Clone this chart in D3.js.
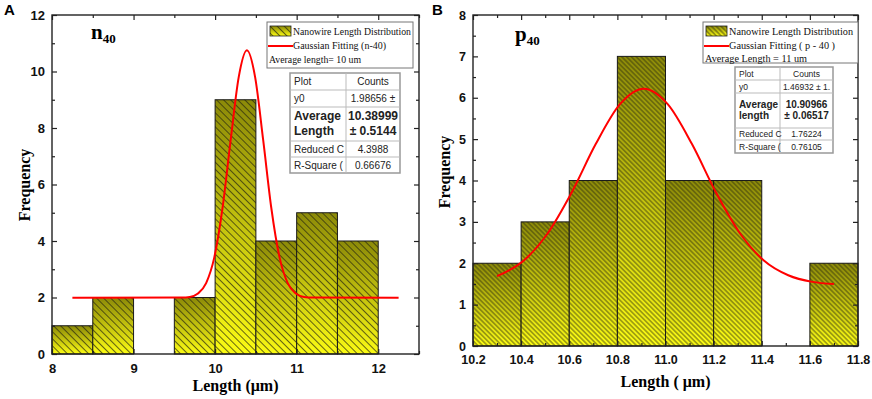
<!DOCTYPE html>
<html>
<head>
<meta charset="utf-8">
<script src="https://cdn.jsdelivr.net/npm/d3@7"></script>
<style>
body{margin:0;background:#fff}
svg{display:block}
</style>
</head>
<body>
<div id="chart"></div>
<script>
// panel A : n40
const binLoA = [8, 8.5, 9.5, 10, 10.5, 11, 11.5]
const binHiA = [8.5, 9, 10, 10.5, 11, 11.5, 12]
const countA = [1, 2, 2, 9, 4, 5, 4]
const fitXA = [8.25, 9.59, 9.69, 9.79, 9.89, 9.99, 10.09, 10.19, 10.29, 10.39, 10.49, 10.59, 10.69, 10.79, 10.89, 10.99, 11.09, 11.19, 12.25]
const fitYA = [1.99, 2.0, 2.02, 2.14, 2.51, 3.42, 5.15, 7.56, 9.81, 10.75, 9.81, 7.56, 5.15, 3.42, 2.51, 2.14, 2.02, 2.0, 1.99]
const xTicksA = [8, 9, 10, 11, 12]
const yTicksA = [0, 2, 4, 6, 8, 10, 12]
const tableA = [["Plot", "Counts"], ["y0", "1.98656 ±"], ["Average|Length", "10.38999|± 0.5144"], ["Reduced C", "4.3988"], ["R-Square (", "0.66676"]]
const legendA = ["Nanowire Length Distribution", "Gaussian Fitting (n-40)", "Average length= 10 um"]

// panel B : p40
const binLoB = [10.2, 10.4, 10.6, 10.8, 11.0, 11.2, 11.6]
const binHiB = [10.4, 10.6, 10.8, 11.0, 11.2, 11.4, 11.8]
const countB = [2, 3, 4, 7, 4, 4, 2]
const fitXB = [10.3, 10.41, 10.51, 10.61, 10.71, 10.81, 10.91, 11.01, 11.11, 11.21, 11.31, 11.41, 11.51, 11.61, 11.7]
const fitYB = [1.69, 2.06, 2.72, 3.71, 4.88, 5.84, 6.22, 5.84, 4.88, 3.71, 2.72, 2.06, 1.71, 1.55, 1.5]
const xTicksB = [10.2, 10.4, 10.6, 10.8, 11.0, 11.2, 11.4, 11.6, 11.8]
const yTicksB = [0, 1, 2, 3, 4, 5, 6, 7, 8]
const tableB = [["Plot", "Counts"], ["y0", "1.46932 ± 1."], ["Average|length", "10.90966|± 0.06517"], ["Reduced C", "1.76224"], ["R-Square (", "0.76105"]]
const legendB = ["Nanowire Length Distribution", "Gaussian Fitting ( p - 40 )", "Average Length = 11 um"]

const width = 872
const height = 399
const serif = "'Liberation Serif','Times New Roman',serif"
const sans = "'Liberation Sans',Arial,sans-serif"

const svg = d3.select("#chart").append("svg")
.attr("width", width)
.attr("height", height)
const defs = svg.append("defs")

function panel(c){
const g = svg.append("g")
const x = d3.scaleLinear().domain(c.xd).range([c.l, c.r])
const y = d3.scaleLinear().domain(c.yd).range([c.b, c.t])

// gradient + hatch
const grad = defs.append("linearGradient").attr("id", "grad" + c.id)
.attr("x1", 0).attr("y1", 0).attr("x2", 0).attr("y2", 1)
grad.append("stop").attr("offset", "0%").attr("stop-color", "#8c8a08")
grad.append("stop").attr("offset", "100%").attr("stop-color", "#fbfb14")
const pat = defs.append("pattern").attr("id", "hatch" + c.id)
.attr("patternUnits", "userSpaceOnUse")
.attr("width", c.hs).attr("height", c.hs)
.attr("patternTransform", "rotate(45)")
pat.append("line").attr("x1", 0).attr("x2", c.hs)
.attr("y1", c.hs / 2).attr("y2", c.hs / 2)
.attr("stroke", "#2a2a10").attr("stroke-width", 0.9).attr("stroke-opacity", 0.8)

const bars = c.lo.map((d, i) => ({lo: d, hi: c.hi[i], n: c.n[i]}))
const bg = g.selectAll("g.bar").data(bars).enter().append("g")
bg.append("rect")
.attr("x", d => x(d.lo)).attr("y", d => y(d.n))
.attr("width", d => x(d.hi) - x(d.lo)).attr("height", d => y(0) - y(d.n))
.attr("fill", `url(#grad${c.id})`)
bg.append("rect")
.attr("x", d => x(d.lo)).attr("y", d => y(d.n))
.attr("width", d => x(d.hi) - x(d.lo)).attr("height", d => y(0) - y(d.n))
.attr("fill", `url(#hatch${c.id})`)
.attr("stroke", "#1a1a1a").attr("stroke-width", 1)

// fitted curve
const pts = c.fx.map((d, i) => [d, c.fy[i]])
g.append("path").datum(pts)
.attr("fill", "none").attr("stroke", "#ff0000").attr("stroke-width", 2)
.attr("d", d3.line().x(d => x(d[0])).y(d => y(d[1])).curve(d3.curveMonotoneX))

// axes, ticks inward on all sides
const fmt = c.fmt
const axes = [
[d3.axisBottom(x).tickValues(c.xt).tickFormat(fmt).tickSizeInner(-5).tickSizeOuter(0).tickPadding(c.xpad), `translate(0,${c.b})`],
[d3.axisBottom(x).tickValues(c.xm).tickFormat("").tickSizeInner(-3).tickSizeOuter(0), `translate(0,${c.b})`],
[d3.axisTop(x).tickValues(c.xt).tickFormat("").tickSizeInner(-5).tickSizeOuter(0), `translate(0,${c.t})`],
[d3.axisTop(x).tickValues(c.xm).tickFormat("").tickSizeInner(-3).tickSizeOuter(0), `translate(0,${c.t})`],
[d3.axisLeft(y).tickValues(c.yt).tickFormat(d3.format("d")).tickSizeInner(-5).tickSizeOuter(0).tickPadding(c.ypad), `translate(${c.l},0)`],
[d3.axisLeft(y).tickValues(c.ym).tickFormat("").tickSizeInner(-3).tickSizeOuter(0), `translate(${c.l},0)`],
[d3.axisRight(y).tickValues(c.yt).tickFormat("").tickSizeInner(-5).tickSizeOuter(0), `translate(${c.r},0)`],
[d3.axisRight(y).tickValues(c.ym).tickFormat("").tickSizeInner(-3).tickSizeOuter(0), `translate(${c.r},0)`]
]
axes.forEach(a => {
const ag = g.append("g").attr("transform", a[1]).call(a[0])
ag.select(".domain").remove()
ag.selectAll("line").attr("stroke", "#222").attr("stroke-width", 1.2)
ag.selectAll("text").attr("font-family", sans).attr("font-weight", "bold")
.attr("font-size", c.tfs).attr("fill", "#111")
})

g.append("rect").attr("x", c.l).attr("y", c.t)
.attr("width", c.r - c.l).attr("height", c.b - c.t)
.attr("fill", "none").attr("stroke", "#222").attr("stroke-width", 1.4)

// axis titles
g.append("text").attr("x", (c.l + c.r) / 2).attr("y", c.xly)
.attr("text-anchor", "middle").attr("font-family", serif).attr("font-weight", "bold")
.attr("font-size", c.xlfs).text(c.xlab)
g.append("text").attr("transform", `translate(${c.ylx},${c.yly}) rotate(-90)`)
.attr("text-anchor", "middle").attr("font-family", serif).attr("font-weight", "bold")
.attr("font-size", 16).text("Frequency")

// panel letter and sample name
g.append("text").attr("x", c.lx).attr("y", 15).attr("font-family", sans)
.attr("font-weight", "bold").attr("font-size", 15).text(c.id)
const nt = g.append("text").attr("x", c.nx).attr("y", c.ny)
.attr("font-family", serif).attr("font-weight", "bold").attr("font-size", 21)
nt.append("tspan").text(c.nm)
nt.append("tspan").attr("font-size", 13).attr("dy", 4).text("40")

// legend
const lg = g.append("g")
lg.append("rect").attr("x", c.lg[0]).attr("y", c.lg[1]).attr("width", c.lg[2]).attr("height", c.lg[3])
.attr("fill", "#fff").attr("stroke", "#777").attr("stroke-width", 1)
lg.append("rect").attr("x", c.lg[0] + 3).attr("y", c.lg[1] + 4).attr("width", 21).attr("height", 10)
.attr("fill", `url(#grad${c.id})`)
lg.append("rect").attr("x", c.lg[0] + 3).attr("y", c.lg[1] + 4).attr("width", 21).attr("height", 10)
.attr("fill", `url(#hatch${c.id})`).attr("stroke", "#222").attr("stroke-width", 0.8)
lg.append("line").attr("x1", c.lg[0] + 1).attr("x2", c.lg[0] + 26)
.attr("y1", c.lg[1] + 24).attr("y2", c.lg[1] + 24)
.attr("stroke", "#ff0000").attr("stroke-width", 2)
c.leg.forEach((t, i) => {
lg.append("text").attr("x", i < 2 ? c.lg[0] + 26 : c.lg[0] + 2)
.attr("y", c.lg[1] + 13 + i * c.lgap)
.attr("textLength", c.lw[i]).attr("lengthAdjust", "spacingAndGlyphs")
.attr("font-family", serif).attr("font-size", c.lfs).attr("fill", "#111").text(t)
})

// stats table
const [tx, ty, tw, cx] = c.tb
const rows = c.rh
const tg = g.append("g")
let yy = ty
const tot = d3.sum(rows)
tg.append("rect").attr("x", tx).attr("y", ty).attr("width", tw).attr("height", tot)
.attr("fill", "#fff").attr("stroke", "#999").attr("stroke-width", 1.5)
tg.append("line").attr("x1", cx).attr("x2", cx).attr("y1", ty).attr("y2", ty + tot)
.attr("stroke", "#bbb")
c.tab.forEach((r, i) => {
const h = rows[i]
if (i > 0) tg.append("line").attr("x1", tx).attr("x2", tx + tw).attr("y1", yy).attr("y2", yy).attr("stroke", "#bbb")
const bold = r[0].includes("|")
const fs = bold ? c.bfs : c.sfs
r.forEach((cell, j) => {
const parts = cell.split("|")
parts.forEach((p, k) => {
tg.append("text")
.attr("x", j === 0 ? tx + 4 : (cx + tx + tw) / 2)
.attr("y", yy + (bold ? c.bb[k] : h / 2 + fs * 0.36))
.attr("text-anchor", j === 0 ? "start" : "middle")
.attr("font-family", sans).attr("font-weight", bold ? "bold" : "normal")
.attr("font-size", fs).attr("fill", "#222").text(p)
})
})
yy += h
})
}

panel({id: "A", xd: [8, 12.5], yd: [0, 12], l: 52, r: 419, t: 15, b: 354,
lo: binLoA, hi: binHiA, n: countA, fx: fitXA, fy: fitYA, hs: 5,
xt: xTicksA, xm: [8.5, 9.5, 10.5, 11.5, 12.5], yt: yTicksA, ym: [1, 3, 5, 7, 9, 11],
fmt: d3.format("d"), xpad: 10, ypad: 7, tfs: 13,
xlab: "Length (μm)", xly: 391, xlfs: 16, ylx: 30, yly: 185,
lx: 4, nx: 91, ny: 39, nm: "n",
lg: [267, 22, 146, 46], leg: legendA, lfs: 11, lw: [118, 93, 92], lgap: 14,
tb: [290, 73, 110, 346], rh: [17, 17, 34, 16, 16], bb: [13, 28], tab: tableA, sfs: 10, bfs: 12})

panel({id: "B", xd: [10.2, 11.8], yd: [0, 8], l: 473, r: 858, t: 15, b: 346,
lo: binLoB, hi: binHiB, n: countB, fx: fitXB, fy: fitYB, hs: 3.4,
xt: xTicksB, xm: [10.3, 10.5, 10.7, 10.9, 11.1, 11.3, 11.5, 11.7], yt: yTicksB, ym: [0.5, 1.5, 2.5, 3.5, 4.5, 5.5, 6.5, 7.5],
fmt: d3.format(".1f"), xpad: 9, ypad: 7, tfs: 12.5,
xlab: "Length ( μm)", xly: 387, xlfs: 16, ylx: 450, yly: 172,
lx: 432, nx: 515, ny: 41, nm: "p",
lg: [703, 22, 155, 41], leg: legendB, lfs: 11, lw: [124, 106, 102], lgap: 13.5,
tb: [735, 67, 98, 780], rh: [13, 13, 35, 12, 13], bb: [15, 26], tab: tableB, sfs: 8.5, bfs: 10})
</script>
</body>
</html>
